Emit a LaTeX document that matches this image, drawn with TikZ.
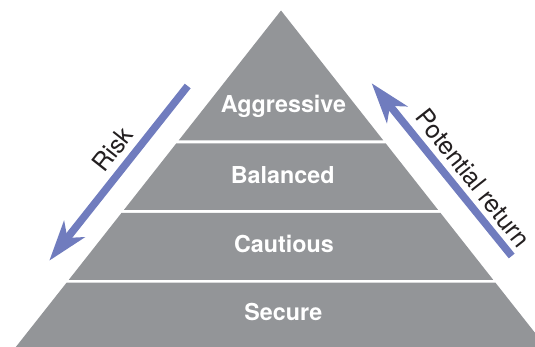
\documentclass[tikz,border=0pt]{standalone}
\usepackage{fontspec}
\setmainfont{TeX Gyre Heros}
\usepackage{tikz}
\usetikzlibrary{arrows.meta}
\definecolor{pyrgray}{RGB}{147,149,152}
\definecolor{arrowblue}{RGB}{112,124,190}
\definecolor{labelblack}{RGB}{35,31,32}

\begin{document}
\begin{tikzpicture}[x=1pt,y=1pt,yscale=-1,xscale=1,
  band/.style={fill=pyrgray},
  bandlabel/.style={text=white,font=\fontsize{23.3}{26}\selectfont\bfseries,anchor=base,inner sep=0pt},
  sidearrow/.style={draw=arrowblue,line width=7.5pt,-{Stealth[length=40pt,width=26pt,inset=11pt]}},
  sidelabel/.style={text=labelblack,font=\fontsize{25}{28}\selectfont,inner sep=0pt}]
\useasboundingbox (0,0) rectangle (535,347);

%Shape: Triangle [id:aggressive band]
\path[band] (281,10.5) -- (383.4,140.5) -- (178.6,140.5) -- cycle ;
%Shape: Trapezoid [id:balanced band]
\path[band] (176.2,143.5) -- (385.8,143.5) -- (438,209.8) -- (124,209.8) -- cycle ;
%Shape: Trapezoid [id:cautious band]
\path[band] (121.6,212.8) -- (440.4,212.8) -- (493.2,279.8) -- (68.8,279.8) -- cycle ;
%Shape: Trapezoid [id:secure band]
\path[band] (66.7,282.5) -- (495.3,282.5) -- (546.2,347) -- (15.8,347) -- cycle ;

% Text Node
\node[bandlabel] (aggressive) at (283.5,112.7) {Aggressive};
% Text Node
\node[bandlabel] (balanced) at (282.7,183.3) {Balanced};
% Text Node
\node[bandlabel] (cautious) at (284,252.7) {Cautious};
% Text Node
\node[bandlabel] (secure) at (283.3,320.7) {Secure};

%Straight Lines [id:risk arrow]
\coordinate (riskstart) at (187.7,86);
\coordinate (riskend) at (49.3,260.7);
\draw[sidearrow] (riskstart) -- (riskend) ;
%Straight Lines [id:return arrow]
\coordinate (returnstart) at (511.7,256);
\coordinate (returnend) at (371.7,83.3);
\draw[sidearrow] (returnstart) -- (returnend) ;

% Text Node
\node[sidelabel,rotate=51.7] (risk) at (112.5,149) {Risk};
% Text Node
\node[sidelabel,rotate=-51.7] (return) at (473,178) {Potential return};

\end{tikzpicture}
\end{document}
